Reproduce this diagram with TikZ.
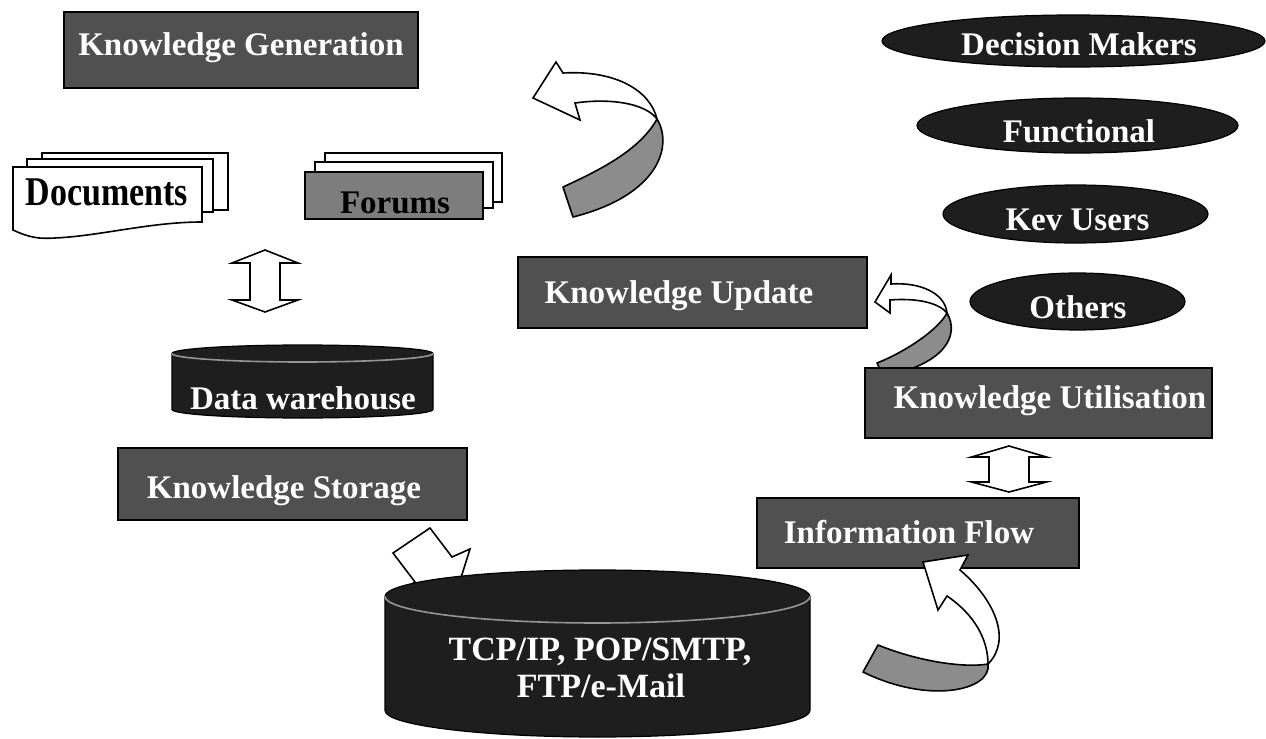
\documentclass[tikz,border=0pt]{standalone}
\usepackage{fontspec}
\setmainfont{Liberation Serif}
\usetikzlibrary{shapes.geometric}
\definecolor{boxgray}{RGB}{80,80,80}
\definecolor{darkfill}{RGB}{30,30,30}
\definecolor{bandgray}{RGB}{140,140,140}
\definecolor{forumgray}{RGB}{125,125,125}
\definecolor{rimgray}{RGB}{150,150,150}
\begin{document}
\begin{tikzpicture}[x=0.5pt,y=-0.5pt,
  box/.style={draw=black,line width=0.9pt,fill=boxgray,inner sep=0pt},
  wt/.style={text=white,font=\bfseries\fontsize{16.5}{19}\selectfont,anchor=base,inner sep=0pt},
  bt/.style={text=black,font=\bfseries\fontsize{16.5}{19}\selectfont,anchor=base,inner sep=0pt},
  oval/.style={ellipse,draw=black,line width=0.6pt,fill=darkfill,inner sep=0pt},
  page/.style={draw=black,line width=0.8pt,fill=white},
  blockarrow/.style={draw=black,line width=0.8pt,fill=white,line join=miter},
  band/.style={draw=black,line width=0.8pt,fill=bandgray,line join=round},
  cyl/.style={fill=darkfill,draw=black,line width=0.6pt},
  rim/.style={draw=rimgray,line width=0.8pt}]
\useasboundingbox (0,0) rectangle (1266,739);

% --- Knowledge Generation
\node[box,minimum width=177pt,minimum height=38pt] (kgbox) at (241,50) {};
\node[wt] (kgtxt) at (241,55) {Knowledge Generation};

% --- Documents (stacked pages)
\draw[page] (42,153) rectangle (228,210);
\draw[page] (27,159) rectangle (213,212);
\draw[page] (13,167) -- (202,167) -- (202,222)
  .. controls (150,222) and (100,236) .. (55,238)
  .. controls (40,239) and (30,238) .. (13,230) -- cycle;
\node[bt,font=\bfseries\fontsize{17}{20}\selectfont] (docs) at (107,205) {\scalebox{1}[1.2]{Documents}};

% --- Forums (stacked pages)
\draw[page] (325,153) rectangle (502,202);
\draw[page] (315,162) rectangle (493,208);
\node[draw=black,line width=0.8pt,fill=forumgray,minimum width=89pt,minimum height=23.5pt,inner sep=0pt] (forumbox) at (394,195.5) {};
\node[bt] (forums) at (395,213) {Forums};

% --- curved arrow towards Knowledge Generation
\draw[band] (657,119) .. controls (673,145) and (660,195) .. (573,217) -- (563,187)
  .. controls (600,170) and (640,150) .. (657,119) -- cycle;
\draw[blockarrow] (657,119) .. controls (650,90) and (615,70) .. (563,73) -- (556,62) -- (533,98)
  -- (580,120) -- (575,103) .. controls (610,98) and (645,103) .. (657,119) -- cycle;

% --- double arrow Documents <-> Data warehouse
\draw[blockarrow] (265,250) -- (298,263) -- (280,263) -- (280,300) -- (298,300) -- (265,312)
  -- (232,300) -- (250,300) -- (250,263) -- (232,263) -- cycle;

% --- Data warehouse cylinder
\draw[cyl] (172,353.5) -- (172,409.5) arc[start angle=180,end angle=360,x radius=65.25pt,y radius=4.25pt]
  -- (433,353.5) arc[start angle=0,end angle=180,x radius=65.25pt,y radius=4.25pt] -- cycle;
\draw[rim] (172,353.5) arc[start angle=180,end angle=360,x radius=65.25pt,y radius=4.25pt];
\node[wt] (dw) at (303,409) {Data warehouse};

% --- Knowledge Storage
\node[box,minimum width=174.5pt,minimum height=36pt] (ksbox) at (292.5,484) {};
\node[wt] (kstxt) at (284,498) {Knowledge Storage};

% --- arrow into big cylinder
\draw[blockarrow] (393,553) -- (430,528) -- (452,557) -- (470,549) -- (454,600) -- (397,594) -- (415,582) -- cycle;

% --- big cylinder
\draw[cyl] (385,596.5) -- (385,710.5) arc[start angle=180,end angle=360,x radius=106.25pt,y radius=13.25pt]
  -- (810,596.5) arc[start angle=0,end angle=180,x radius=106.25pt,y radius=13.25pt] -- cycle;
\draw[rim] (385,596.5) arc[start angle=180,end angle=360,x radius=106.25pt,y radius=13.25pt];
\node[wt,font=\bfseries\fontsize{17}{20}\selectfont] (tcp1) at (600,660) {TCP/IP, POP/SMTP,};
\node[wt,font=\bfseries\fontsize{17}{20}\selectfont] (tcp2) at (601,697) {FTP/e-Mail};

% --- Knowledge Update
\node[box,minimum width=174.5pt,minimum height=35.5pt] (kubox) at (692.5,292.5) {};
\node[wt] (kutxt) at (679,303) {Knowledge Update};

% --- curved arrow towards Knowledge Update
\draw[band] (947,313) .. controls (960,335) and (945,365) .. (883,376) -- (877,363)
  .. controls (905,352) and (938,330) .. (947,313) -- cycle;
\draw[blockarrow] (947,313) .. controls (945,293) and (920,282) .. (891,284) -- (891,275) -- (875,302)
  -- (890,313) -- (890,300) .. controls (915,298) and (938,302) .. (947,313) -- cycle;

% --- user ellipses
\node[oval,minimum width=191.5pt,minimum height=26pt] (dm) at (1073.5,41) {};
\node[wt] (dmt) at (1079,55) {Decision Makers};
\node[oval,minimum width=160.5pt,minimum height=27.5pt] (fn) at (1077.5,125.5) {};
\node[wt] (fnt) at (1079,142) {Functional};
\node[oval,minimum width=132.5pt,minimum height=29pt] (kv) at (1075.5,214) {};
\node[wt] (kvt) at (1077.5,230) {Kev Users};
\node[oval,minimum width=107.5pt,minimum height=28.5pt] (ot) at (1077.5,301.5) {};
\node[wt] (ott) at (1078,318) {Others};

% --- Knowledge Utilisation
\node[box,minimum width=173.5pt,minimum height=35pt] (kutbox) at (1038.5,403) {};
\node[wt] (kuttxt) at (1050,408) {Knowledge Utilisation};

% --- double arrow Utilisation <-> Information Flow
\draw[blockarrow] (1009,446) -- (1046.5,457) -- (1029,457) -- (1029,482) -- (1046.5,482) -- (1009,492)
  -- (971.5,482) -- (989,482) -- (989,457) -- (971.5,457) -- cycle;

% --- Information Flow
\node[box,minimum width=161pt,minimum height=35pt] (infbox) at (918,533) {};
\node[wt] (inftxt) at (909,543) {Information Flow};

% --- curved arrow towards Information Flow
\draw[band] (988,664) .. controls (992,690) and (930,705) .. (863,672) -- (878,645)
  .. controls (920,662) and (965,668) .. (988,664) -- cycle;
\draw[blockarrow] (988,664) .. controls (1012,640) and (995,600) .. (960,570) -- (968,555) -- (923,562)
  -- (938,610) -- (947,596) .. controls (975,615) and (988,640) .. (988,664) -- cycle;
\end{tikzpicture}
\end{document}
